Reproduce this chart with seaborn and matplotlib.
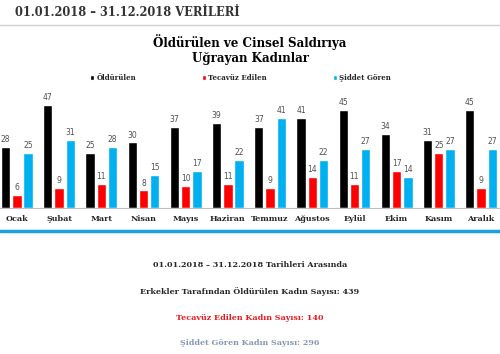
import numpy as np
import pandas as pd
import matplotlib
matplotlib.use("Agg")
import matplotlib.pyplot as plt
import seaborn as sns

months = ["Ocak", "Şubat", "Mart", "Nisan", "Mayıs", "Haziran",
          "Temmuz", "Ağustos", "Eylül", "Ekim", "Kasım", "Aralık"]
olduren = [28, 47, 25, 30, 37, 39, 37, 41, 45, 34, 31, 45]
tecavuz = [6, 9, 11, 8, 10, 11, 9, 14, 11, 17, 25, 9]
siddet = [25, 31, 28, 15, 17, 22, 41, 22, 27, 14, 27, 27]
series = ["Öldürülen", "Tecavüz Edilen", "Şiddet Gören"]
colors = ["#000000", "#FF0000", "#00B0F0"]

df = pd.DataFrame({
    "ay": months * 3,
    "tur": [series[0]] * 12 + [series[1]] * 12 + [series[2]] * 12,
    "sayi": olduren + tecavuz + siddet,
})

sns.set_theme(style="white")
plt.rcParams["font.family"] = ["DejaVu Serif"]

fig = plt.figure(figsize=(5, 3.54), dpi=100)
ax = fig.add_axes([0.0, 0.413, 1.0, 0.338])

sns.barplot(data=df, x="ay", y="sayi", hue="tur", palette=colors,
            width=0.8, gap=0.17, ax=ax, saturation=1)

for c in ax.containers:
    ax.bar_label(c, padding=2, fontsize=5.5, color="#505050",
                 family="DejaVu Sans")

ax.set_xlim(-0.4, 11.45)
ax.set_ylim(0, 54.8)
ax.set_xlabel("")
ax.set_ylabel("")
ax.set_yticks([])
ax.tick_params(axis="x", length=0, pad=5)
for lab in ax.get_xticklabels():
    lab.set_fontsize(5.8)
    lab.set_fontweight("bold")
    lab.set_color("#262626")
for s in ["top", "left", "right"]:
    ax.spines[s].set_visible(False)
ax.spines["bottom"].set_color("#BFBFBF")
ax.spines["bottom"].set_linewidth(0.8)

sns.move_legend(ax, "lower center", bbox_to_anchor=(0.481, 1.0), ncol=3,
                frameon=False, title=None, handlelength=0.6,
                handleheight=0.6, handletextpad=0.3, columnspacing=9.5,
                prop={"size": 5, "weight": "bold"})

# header
fig.text(0.03, 1 - 12 / 354, "01.01.2018 – 31.12.2018 VERİLERİ",
         fontsize=8.3, fontweight="bold", color="#333333", va="center")
fig.add_artist(plt.Line2D([0, 1], [1 - 25 / 354] * 2, color="#D0D0D0", lw=1))

fig.text(0.5, 1 - 49.5 / 354, "Öldürülen ve Cinsel Saldırıya\nUğrayan Kadınlar",
         fontsize=8.6, fontweight="bold", color="#000000", ha="center",
         va="center", linespacing=1.15)

fig.add_artist(plt.Line2D([0, 1], [1 - 231 / 354] * 2, color="#1BA1E2", lw=2.5))

fig.text(0.5, 1 - 265 / 354, "01.01.2018 – 31.12.2018 Tarihleri Arasında",
         fontsize=5.8, fontweight="bold", color="#262626", ha="center", va="center")
fig.text(0.5, 1 - 292 / 354, "Erkekler Tarafından Öldürülen Kadın Sayısı: 439",
         fontsize=5.8, fontweight="bold", color="#262626", ha="center", va="center")
fig.text(0.5, 1 - 318 / 354, "Tecavüz Edilen Kadın Sayısı: 140",
         fontsize=5.8, fontweight="bold", color="#E31B23", ha="center", va="center")
fig.text(0.5, 1 - 343 / 354, "Şiddet Gören Kadın Sayısı: 296",
         fontsize=5.8, fontweight="bold", color="#8497B0", ha="center", va="center")

fig.savefig("out.png", dpi=100, facecolor="white")
